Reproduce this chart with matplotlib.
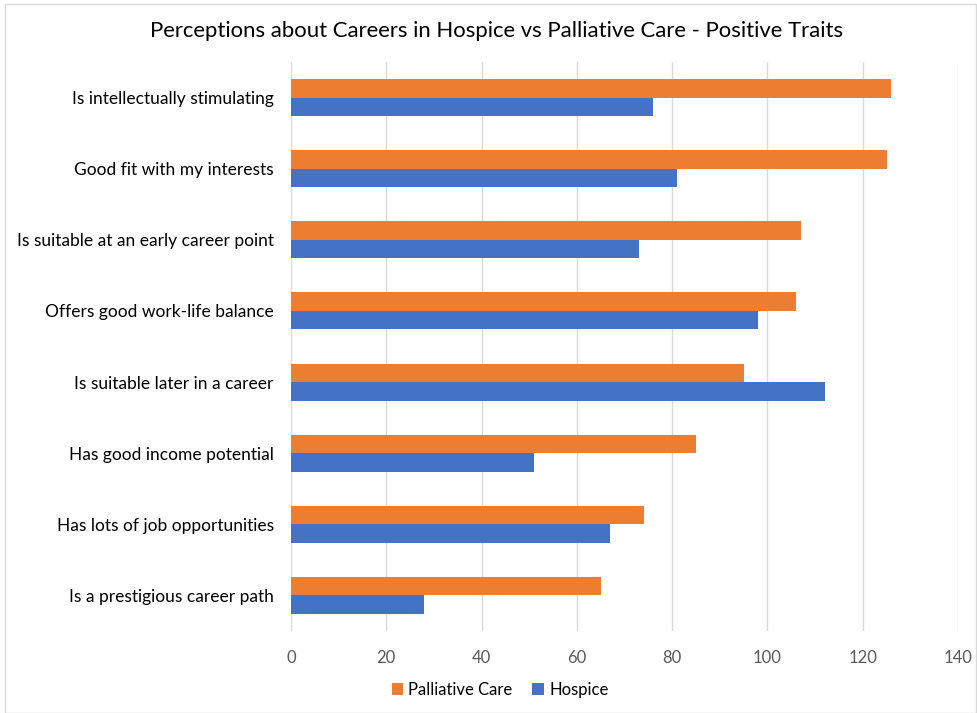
import matplotlib
matplotlib.use("Agg")
import matplotlib.pyplot as plt
import numpy as np
from matplotlib.patches import Rectangle

plt.rcParams['font.family'] = ['Lato', 'DejaVu Sans']

categories = [
    "Is intellectually stimulating",
    "Good fit with my interests",
    "Is suitable at an early career point",
    "Offers good work-life balance",
    "Is suitable later in a career",
    "Has good income potential",
    "Has lots of job opportunities",
    "Is a prestigious career path",
]
palliative = [126, 125, 107, 106, 95, 85, 74, 65]
hospice = [76, 81, 73, 98, 112, 51, 67, 28]
xticks = [0, 20, 40, 60, 80, 100, 120, 140]

orange = "#ED7D31"
blue = "#4472C4"

fig = plt.figure(figsize=(9.77, 7.13), dpi=100)
ax = fig.add_axes([291/977, 1-631/713, (958-291)/977, (631-62)/713])

y = np.arange(len(categories))
h = 0.26
ax.barh(y - h/2, palliative, height=h, color=orange, label="Palliative Care", zorder=3)
ax.barh(y + h/2, hospice, height=h, color=blue, label="Hospice", zorder=3)

ax.set_ylim(len(categories) - 0.5, -0.5)
ax.set_xlim(0, 140)
ax.set_xticks(xticks)
ax.set_yticks(y)
ax.set_yticklabels(categories, fontsize=12.5, color="#000000")
ax.tick_params(axis='x', labelsize=12, labelcolor="#595959", length=0, pad=14)
ax.tick_params(axis='y', length=0, pad=12.5)
ax.grid(axis='x', color="#D9D9D9", linewidth=1, zorder=0)
for s in ax.spines.values():
    s.set_visible(False)

fig.suptitle("Perceptions about Careers in Hospice vs Palliative Care - Positive Traits",
             fontsize=15.9, x=497/977, y=1-31/713, va='center')

leg = fig.legend(loc='center', bbox_to_anchor=(500/977, 1-690/713), ncol=2, frameon=False,
                 fontsize=12, handlelength=0.7, handleheight=0.7, handletextpad=0.3,
                 columnspacing=1.2)

fig.patches.append(Rectangle((5/977, 0.5/713), 971/977, 709/713, transform=fig.transFigure,
                             fill=False, edgecolor="#D9D9D9", linewidth=1))

fig.savefig("out.png", dpi=100, facecolor="white")
